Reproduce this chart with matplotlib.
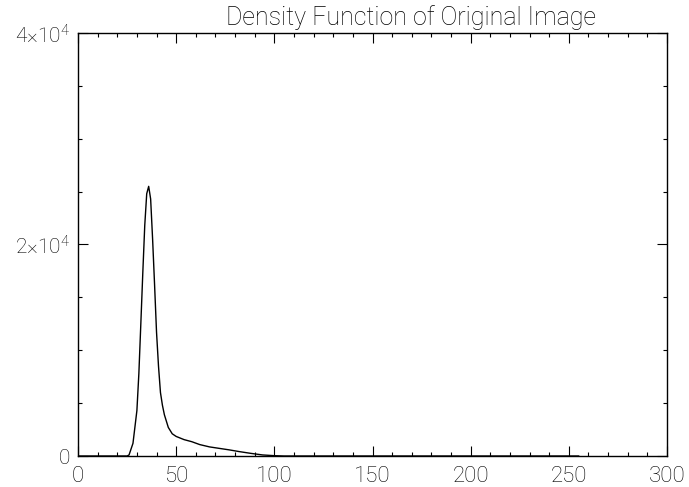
import matplotlib
matplotlib.use("Agg")
import matplotlib.pyplot as plt
from matplotlib.ticker import MultipleLocator, FixedLocator

plt.rcParams['font.family'] = ['Roboto', 'DejaVu Sans']
plt.rcParams['font.weight'] = 'light'
plt.rcParams['mathtext.default'] = 'regular'

# Pixel value (gray level) and density counts
gray = [0, 25, 26, 28, 30, 31, 32, 33, 34, 35, 36, 37, 38, 39, 40, 41, 42, 43, 44,
        46, 48, 50, 54, 58, 62, 67, 72, 77, 82, 88, 94, 100, 105, 255]
density = [0, 0, 100, 1200, 4300, 7800, 12500, 17300, 21800, 24800, 25500, 24300,
           20500, 16200, 11700, 8500, 6000, 4800, 3900, 2700, 2100, 1850, 1550, 1350,
           1080, 860, 720, 580, 420, 250, 100, 30, 0, 0]

title = "Density Function of Original Image"
xticks = [0, 50, 100, 150, 200, 250, 300]
yticks = [0, 20000, 40000]
yticklabels = ["0", r"$2{\times}10^4$", r"$4{\times}10^4$"]

fig = plt.figure(figsize=(6.89, 4.87), dpi=100)
ax = fig.add_axes([78/689, (487-456)/487, (667-78)/689, (456-33)/487])
ax.plot(gray, density, color='black', linewidth=1.0)
ax.set_xlim(0, 300)
ax.set_ylim(0, 40000)
ax.xaxis.set_major_locator(FixedLocator(xticks))
ax.xaxis.set_minor_locator(MultipleLocator(10))
ax.yaxis.set_major_locator(FixedLocator(yticks))
ax.yaxis.set_minor_locator(MultipleLocator(5000))
ax.set_yticklabels(yticklabels)
ax.tick_params(which='both', direction='in', top=True, right=True, width=0.8)
ax.tick_params(which='major', length=7, labelsize=16)
ax.tick_params(axis='y', which='major', labelsize=15)
ax.tick_params(axis='x', which='major', pad=7)
ax.tick_params(axis='y', which='major', pad=6)
ax.tick_params(which='minor', length=3)
for s in ax.spines.values():
    s.set_linewidth(1.0)
fig.text(411/689, 1 - 18/487, title, fontsize=18, ha='center', va='center')
fig.savefig("out.png", dpi=100)
